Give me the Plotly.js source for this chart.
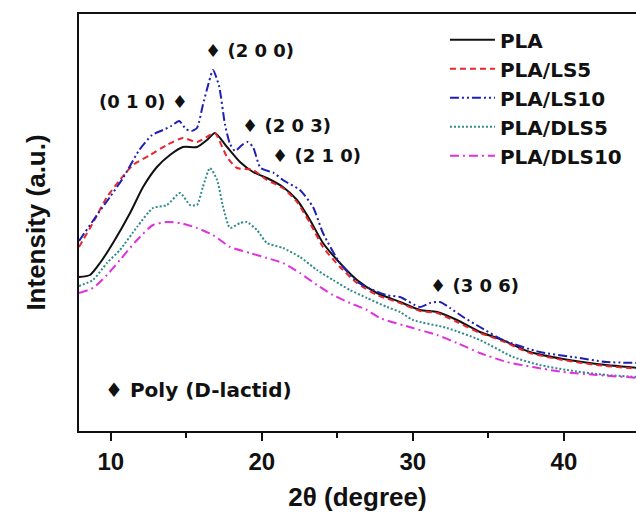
<!DOCTYPE html>
<html>
<head>
<meta charset="utf-8">
<script src="https://cdn.plot.ly/plotly-3.0.1.min.js"></script>
<style>
html,body{margin:0;padding:0;background:#fff;}
#chart{width:636px;height:514px;}
</style>
</head>
<body>
<div id="chart"></div>
<script>
// 2-theta (degree) sample positions and intensities (a.u.)
const thetaPLA = [7.9, 8.63, 9.29, 10.15, 11.28, 12.14, 13.06, 13.92, 14.78, 15.71, 16.37, 16.9, 17.7, 18.56, 19.42, 20.34, 21.4, 22.33, 23.19, 24.05, 25.17, 26.3, 27.62, 29.15, 30.47, 31.6, 32.92, 34.44, 35.77, 37.75, 39.93, 42.18, 45];
const valPLA   = [154, 156, 168, 188, 218, 244, 264, 276, 284, 284, 291, 298, 284, 269, 259, 253, 244, 231, 211, 188, 168, 151, 138, 129, 121, 119, 111, 99, 92, 79, 72, 67, 63];

const thetaLS5 = [7.9, 8.82, 9.75, 10.61, 11.47, 12.6, 13.72, 14.78, 15.71, 16.57, 16.9, 17.7, 18.36, 19.42, 20.34, 21.4, 22.33, 23.19, 24.05, 25.17, 26.3, 27.62, 29.15, 30.47, 31.6, 32.92, 34.44, 35.77, 37.75, 39.93, 42.18, 45];
const valLS5   = [184, 208, 234, 251, 266, 276, 286, 293, 289, 296, 298, 274, 263, 261, 251, 243, 229, 208, 184, 164, 148, 136, 128, 120, 118, 109, 98, 91, 78, 71, 66, 62];

const thetaLS10 = [7.9, 9.09, 9.95, 10.86, 11.89, 12.74, 13.46, 14.0, 14.53, 14.98, 15.35, 15.71, 16.1, 16.52, 16.77, 17.17, 17.57, 17.9, 18.23, 18.69, 19.06, 19.42, 19.92, 20.8, 21.4, 22.52, 23.39, 24.05, 25.17, 26.43, 28.24, 29.15, 30.47, 31.14, 31.8, 32.46, 33.33, 34.44, 35.96, 38.4, 40.58, 42.84, 45];
const valLS10   = [190, 216, 234, 254, 281, 296, 301, 305, 310, 302, 300, 303, 326, 350, 361, 345, 306, 287, 280, 286, 289, 284, 263, 258, 251, 241, 224, 198, 168, 148, 136, 134, 124, 128, 129, 123, 114, 104, 91, 79, 74, 69, 68];

const thetaDLS5 = [7.9, 8.82, 9.75, 10.61, 11.74, 12.8, 13.72, 14.59, 15.25, 15.71, 16.1, 16.57, 17.04, 17.44, 17.9, 18.56, 19.0, 19.68, 20.34, 21.4, 22.52, 23.65, 24.71, 25.84, 26.96, 28.29, 29.15, 30.01, 32.26, 34.44, 36.63, 38.4, 40.19, 42.84, 45];
const valDLS5   = [145, 151, 168, 181, 204, 223, 226, 238, 226, 226, 244, 263, 251, 224, 203, 208, 209, 201, 188, 183, 174, 161, 151, 141, 133, 124, 119, 111, 103, 91, 74, 66, 61, 56, 54];

const thetaDLS10 = [7.9, 8.82, 9.75, 10.61, 11.74, 12.8, 13.72, 14.59, 15.71, 16.77, 17.9, 19.22, 20.34, 21.4, 22.52, 23.65, 24.71, 25.84, 26.96, 27.82, 30.01, 31.6, 32.92, 34.44, 36.23, 37.95, 39.93, 42.18, 45];
const valDLS10   = [138, 143, 156, 171, 191, 206, 209, 208, 203, 196, 184, 178, 173, 168, 158, 146, 136, 128, 121, 113, 103, 96, 88, 78, 69, 64, 59, 56, 53];

const seriesNames = ["PLA", "PLA/LS5", "PLA/LS10", "PLA/DLS5", "PLA/DLS10"];
const tickVals = [10, 20, 30, 40];
const tickText = ["10", "20", "30", "40"];

const peakLabels = ["\u2666 (2 0 0)", "(0 1 0) \u2666", "\u2666 (2 0 3)", "\u2666 (2 1 0)", "\u2666 (3 0 6)", "\u2666 Poly (D-lactid)"];

const FONT = "Liberation Sans, Arial, sans-serif";
const FONT2 = "DejaVu Sans, Liberation Sans, sans-serif";

function tr(x, y, name, color, dash, width) {
  return {
    x: x, y: y, name: name, type: "scatter", mode: "lines",
    line: {color: color, dash: dash, width: width, shape: "spline", smoothing: 0.6},
    hoverinfo: "skip"
  };
}

const data = [
  tr(thetaPLA, valPLA, seriesNames[0], "#111111", "solid", 2),
  tr(thetaLS5, valLS5, seriesNames[1], "#e8262c", "6px,4px", 2),
  tr(thetaLS10, valLS10, seriesNames[2], "#1f1fb4", "9px,3px,2px,3px,2px,3px", 2),
  tr(thetaDLS5, valDLS5, seriesNames[3], "#2f8a8a", "2px,2px", 2),
  tr(thetaDLS10, valDLS10, seriesNames[4], "#e030e0", "9px,4px,2px,4px", 2)
];

function ann(text, x, y, size) {
  return {text: text, x: x, y: y, xref: "x", yref: "y", showarrow: false,
          xanchor: "center", yanchor: "middle",
          font: {family: FONT2, size: size, color: "#111", weight: "bold"}};
}

const layout = {
  width: 636, height: 514,
  margin: {l: 79, r: 0, t: 14, b: 83, autoexpand: false},
  paper_bgcolor: "#fff", plot_bgcolor: "#fff",
  font: {family: FONT, color: "#111", weight: "bold"},
  showlegend: true,
  legend: {
    x: 0.657, y: 0.985, xanchor: "left", yanchor: "top",
    itemwidth: 45,
    font: {family: FONT2, size: 20, color: "#111", weight: "bold"},
    bgcolor: "rgba(0,0,0,0)", borderwidth: 0, tracegroupgap: 0
  },
  xaxis: {
    range: [7.9, 44.77], showgrid: false, zeroline: false,
    showline: true, linecolor: "#111", linewidth: 2, mirror: true,
    ticks: "outside", ticklen: 8, tickwidth: 2, tickcolor: "#111",
    tickvals: tickVals, ticktext: tickText,
    tickfont: {family: FONT, size: 24, color: "#111", weight: "bold"},
    minor: {dtick: 5, tick0: 0, ticks: "outside", ticklen: 5, tickwidth: 2, tickcolor: "#111", showgrid: false},
    title: {text: "2\u03b8 (degree)", font: {family: FONT, size: 26, color: "#111", weight: "bold"}, standoff: 14},
    automargin: false
  },
  yaxis: {
    range: [0, 417], showgrid: false, zeroline: false,
    showline: true, linecolor: "#111", linewidth: 2, mirror: false,
    ticks: "", showticklabels: false,
    title: {text: "Intensity (a.u.)", font: {family: FONT, size: 26, color: "#111", weight: "bold"}, standoff: 24},
    automargin: false
  },
  annotations: [
    ann(peakLabels[0], 19.19, 381, 18),
    ann(peakLabels[1], 12.17, 330, 18),
    ann(peakLabels[2], 21.63, 306, 18),
    ann(peakLabels[3], 23.62, 276, 18),
    ann(peakLabels[4], 34.11, 146, 18),
    ann(peakLabels[5], 15.78, 41, 20)
  ]
};

Plotly.newPlot("chart", data, layout, {staticPlot: true, displayModeBar: false});
</script>
</body>
</html>
